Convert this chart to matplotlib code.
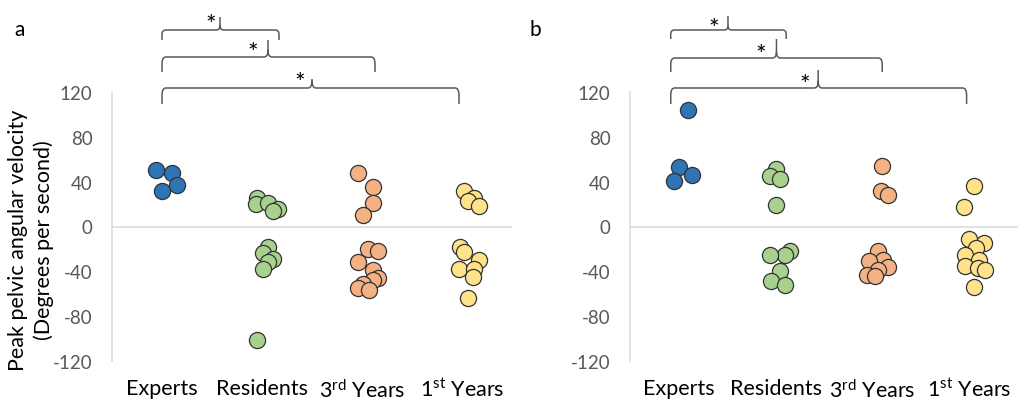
import matplotlib
matplotlib.use("Agg")
import matplotlib.pyplot as plt
import matplotlib.transforms as mtransforms
from matplotlib.path import Path
from matplotlib.patches import PathPatch

plt.rcParams['font.family'] = ['Lato', 'DejaVu Sans']
plt.rcParams['mathtext.fontset'] = 'custom'
plt.rcParams['mathtext.rm'] = 'Lato'
plt.rcParams['mathtext.it'] = 'Lato:italic'

# ---------------- data ----------------
categories = ['Experts', 'Residents', r'3$^{\mathrm{rd}}$ Years', r'1$^{\mathrm{st}}$ Years']
yticks = [-120, -80, -40, 0, 40, 80, 120]

experts_a = [50, 48, 37, 32]
experts_a_jit = [-0.06, 0.10, 0.15, 0.00]
residents_a = [25, 20, 21, 16, 14, -18, -24, -29, -32, -38, -101]
residents_a_jit = [-0.05, -0.06, 0.06, 0.16, 0.11, 0.06, 0.01, 0.11, 0.06, 0.01, -0.05]
third_a = [48, 35, 21, 10, -20, -22, -32, -39, -46, -48, -51, -55, -57]
third_a_jit = [-0.04, 0.11, 0.11, 0.01, 0.06, 0.16, -0.04, 0.11, 0.16, 0.11, 0.01, -0.04, 0.07]
first_a = [32, 25, 23, 18, -18, -23, -30, -38, -38, -45, -64]
first_a_jit = [0.02, 0.12, 0.06, 0.17, -0.02, 0.02, 0.17, -0.03, 0.12, 0.11, 0.06]

experts_b = [104, 53, 46, 41]
experts_b_jit = [0.10, 0.00, 0.14, -0.05]
residents_b = [51, 45, 42, 19, -22, -25, -25, -40, -49, -52]
residents_b_jit = [0.00, -0.06, 0.05, 0.00, 0.15, 0.10, -0.06, 0.05, -0.05, 0.10]
third_b = [54, 32, 28, -22, -30, -31, -36, -39, -43, -44]
third_b_jit = [0.10, 0.09, 0.16, 0.06, 0.11, -0.04, 0.16, 0.06, -0.06, 0.03]
first_b = [36, 17, -11, -15, -19, -25, -30, -35, -37, -39, -54]
first_b_jit = [0.05, -0.06, 0.00, 0.15, 0.07, -0.05, 0.10, -0.05, 0.09, 0.16, 0.05]

colors = ['#2e75b6', '#a9d18e', '#f4b183', '#ffe28a']

# significance brackets: (left x, peak x, right x, star x) in data units, y in figure pixels
brackets_a = [(0.50, 1.08, 1.67, 0.99, 31, 41, 18, 21),
              (0.50, 1.56, 2.63, 1.41, 58, 73, 41, 49),
              (0.50, 2.00, 3.47, 1.88, 89, 105, 80, 78)]
brackets_b = [(0.42, 1.01, 1.61, 0.86, 31, 40, 17, 24),
              (0.42, 1.51, 2.60, 1.35, 59, 73, 40, 50),
              (0.42, 1.94, 3.47, 1.80, 89, 105, 71, 80)]

W, H = 1027, 402
fig = plt.figure(figsize=(W / 100, H / 100), dpi=100)

panels = [
    ('a', [112 / W, 1 - 362 / H, 400 / W, 269 / H],
     [(experts_a, experts_a_jit), (residents_a, residents_a_jit), (third_a, third_a_jit), (first_a, first_a_jit)],
     brackets_a, (20, 30)),
    ('b', [630 / W, 1 - 362 / H, 388 / W, 269 / H],
     [(experts_b, experts_b_jit), (residents_b, residents_b_jit), (third_b, third_b_jit), (first_b, first_b_jit)],
     brackets_b, (535, 30)),
]

gray = '#595959'
for label, rect, groups, brks, lpos in panels:
    ax = fig.add_axes(rect)
    for i, (vals, jit) in enumerate(groups):
        xs = [i + 0.5 + j for j in jit]
        ax.scatter(xs, vals, s=135, color=colors[i], edgecolor='#333333', linewidth=0.9, zorder=3)
    ax.set_xlim(0, 4)
    ax.set_ylim(-120, 120)
    ax.axhline(0, color='#d9d9d9', lw=1.1, zorder=1)
    for side in ['top', 'right', 'bottom']:
        ax.spines[side].set_visible(False)
    ax.spines['left'].set_color('#d9d9d9')
    ax.spines['left'].set_linewidth(1.1)
    ax.set_yticks(yticks)
    ax.set_yticklabels([str(t) for t in yticks])
    ax.tick_params(axis='y', length=0, pad=14, labelsize=13.5, labelcolor=gray)
    ax.set_xticks([0.5, 1.5, 2.5, 3.5])
    ax.set_xticklabels(categories)
    ax.tick_params(axis='x', length=0, pad=12, labelsize=15.5, labelcolor='black')

    tr = mtransforms.blended_transform_factory(ax.transData, fig.transFigure)
    r = 0.04
    for (xl, xp, xr, xs_, yh, ye, yt, ys) in brks:
        fh, fe, ft = 1 - yh / H, 1 - ye / H, 1 - yt / H
        rr = (fh - fe) * 0.45
        verts = [(xl, fe), (xl, fh - rr), (xl, fh), (xl + r, fh),
                 (xp - r, fh), (xp, fh), (xp, fh + rr),
                 (xp, ft),
                 (xp, fh + rr), (xp, fh), (xp + r, fh),
                 (xr - r, fh), (xr, fh), (xr, fh - rr), (xr, fe)]
        codes = [Path.MOVETO, Path.LINETO, Path.CURVE3, Path.CURVE3,
                 Path.LINETO, Path.CURVE3, Path.CURVE3,
                 Path.LINETO,
                 Path.MOVETO, Path.CURVE3, Path.CURVE3,
                 Path.LINETO, Path.CURVE3, Path.CURVE3, Path.LINETO]
        patch = PathPatch(Path(verts, codes), transform=tr, fill=False,
                          edgecolor=gray, lw=1.1, clip_on=False)
        ax.add_patch(patch)
        ax.text(xs_, 1 - (ys + 5) / H, '*', transform=tr, ha='center', va='center',
                fontsize=18, color='black', clip_on=False)

    fig.text(lpos[0] / W, 1 - lpos[1] / H, label, ha='center', va='center', fontsize=15)

fig.text(31 / W, 1 - 240 / H, 'Peak pelvic angular velocity\n(Degrees per second)',
         rotation=90, ha='center', va='center', multialignment='center',
         fontsize=15.5, linespacing=1.3)

fig.savefig('out.png', dpi=100)
